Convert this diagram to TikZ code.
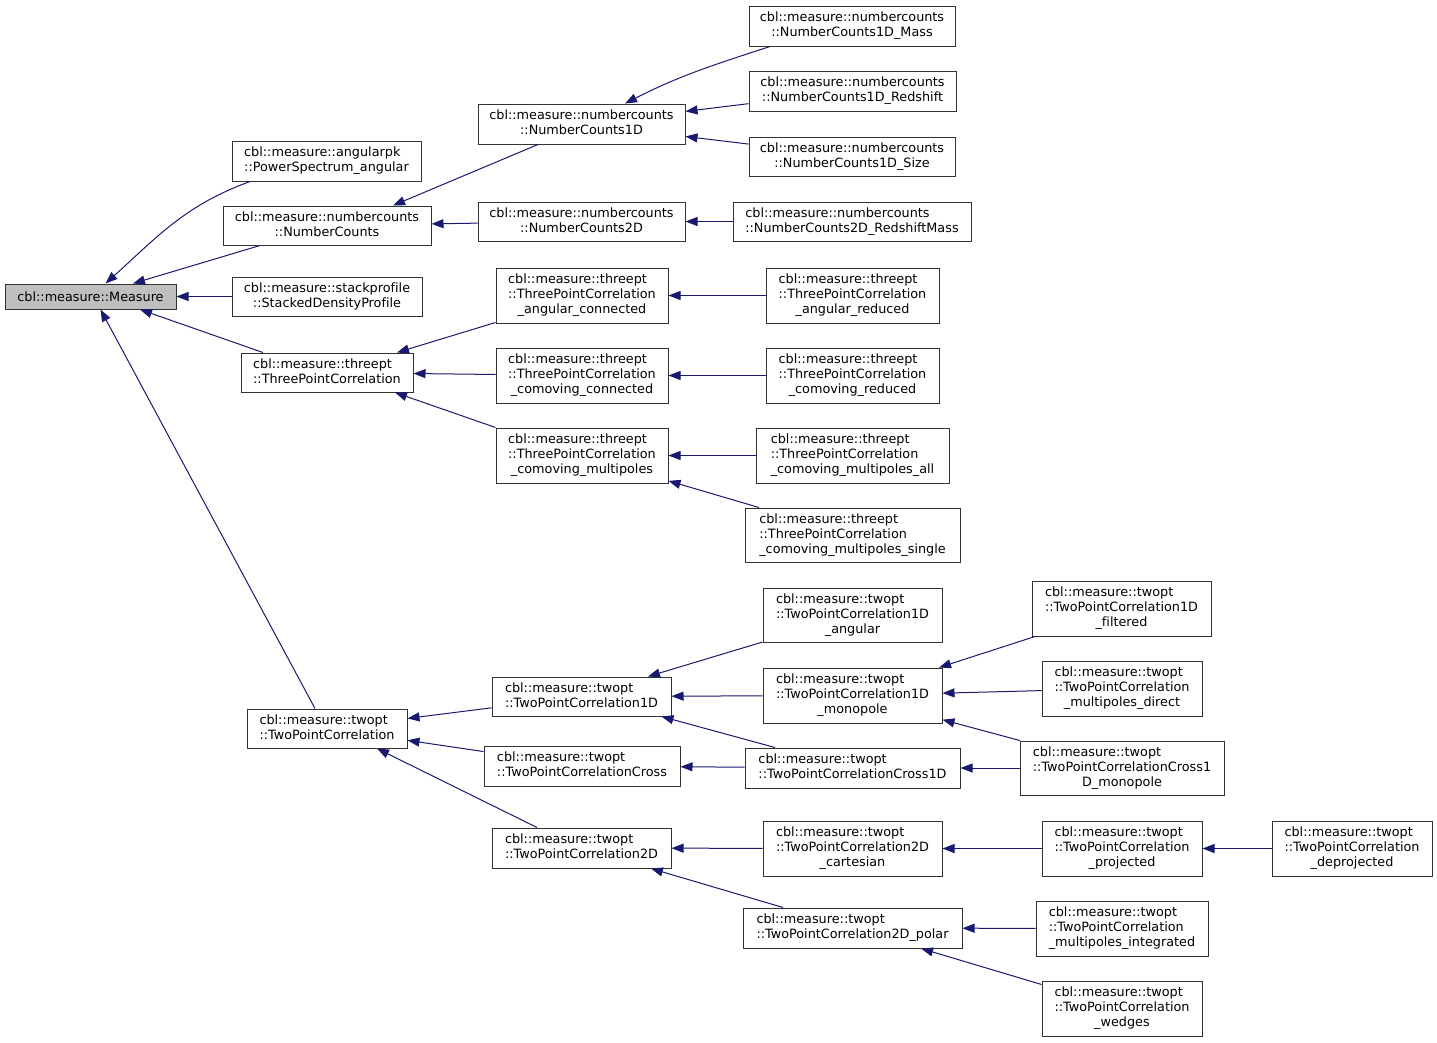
\documentclass[tikz,border=0pt]{standalone}
\usepackage{fontspec}
\setmainfont{DejaVu Sans}[Ligatures=NoCommon]
\usetikzlibrary{arrows.meta}
\definecolor{edgeblue}{HTML}{191970}
\definecolor{boxgray}{HTML}{BFBFBF}
\newcommand\twol[2]{\begin{tabular}{@{}l@{}}#1\\\multicolumn{1}{@{}c@{}}{#2}\end{tabular}}
\newcommand\threel[3]{\begin{tabular}{@{}l@{}}#1\\#2\\\multicolumn{1}{@{}c@{}}{#3}\end{tabular}}
\begin{document}
\begin{tikzpicture}[x=1pt,y=-1pt,
  cls/.style={draw=black!80, line width=1pt, rectangle, inner sep=0pt, fill=white,
    font=\fontsize{12.8pt}{15pt}\selectfont},
  arr/.style={draw=edgeblue, line width=1pt, -{Triangle[length=12pt,width=9pt]}}]
\useasboundingbox (0,0) rectangle (1437,1042);
% column 1
\node[cls, fill=boxgray, minimum width=171pt, minimum height=25pt] (m) at (90.5,296.5) {cbl::measure::Measure};
% column 2
\node[cls, minimum width=189pt, minimum height=40pt] (ps) at (326.5,161) {\twol{cbl::measure::angularpk}{::PowerSpectrum\_angular}};
\node[cls, minimum width=208pt, minimum height=39pt] (nc) at (327,225.5) {\twol{cbl::measure::numbercounts}{::NumberCounts}};
\node[cls, minimum width=190pt, minimum height=39pt] (sdp) at (327,296.5) {\twol{cbl::measure::stackprofile}{::StackedDensityProfile}};
\node[cls, minimum width=172pt, minimum height=39pt] (tp) at (327,372.5) {\twol{cbl::measure::threept}{::ThreePointCorrelation}};
\node[cls, minimum width=160pt, minimum height=39pt] (tw) at (327,728.5) {\twol{cbl::measure::twopt}{::TwoPointCorrelation}};
% column 3
\node[cls, minimum width=207pt, minimum height=40pt] (nc1d) at (581.5,124) {\twol{cbl::measure::numbercounts}{::NumberCounts1D}};
\node[cls, minimum width=207pt, minimum height=39pt] (nc2d) at (581.5,221.5) {\twol{cbl::measure::numbercounts}{::NumberCounts2D}};
\node[cls, minimum width=172pt, minimum height=55pt] (tac) at (582,295.5) {\threel{cbl::measure::threept}{::ThreePointCorrelation}{\_angular\_connected}};
\node[cls, minimum width=172pt, minimum height=55pt] (tcc) at (582,375.5) {\threel{cbl::measure::threept}{::ThreePointCorrelation}{\_comoving\_connected}};
\node[cls, minimum width=172pt, minimum height=55pt] (tcm) at (582,455.5) {\threel{cbl::measure::threept}{::ThreePointCorrelation}{\_comoving\_multipoles}};
\node[cls, minimum width=179pt, minimum height=39pt] (t1d) at (581.5,696.5) {\twol{cbl::measure::twopt}{::TwoPointCorrelation1D}};
\node[cls, minimum width=196pt, minimum height=40pt] (tcross) at (582,766) {\twol{cbl::measure::twopt}{::TwoPointCorrelationCross}};
\node[cls, minimum width=179pt, minimum height=40pt] (t2d) at (581.5,848) {\twol{cbl::measure::twopt}{::TwoPointCorrelation2D}};
% column 4
\node[cls, minimum width=206pt, minimum height=40pt] (ncm) at (852,26) {\twol{cbl::measure::numbercounts}{::NumberCounts1D\_Mass}};
\node[cls, minimum width=207pt, minimum height=40pt] (ncr) at (852.5,91) {\twol{cbl::measure::numbercounts}{::NumberCounts1D\_Redshift}};
\node[cls, minimum width=206pt, minimum height=39pt] (ncs) at (852,156.5) {\twol{cbl::measure::numbercounts}{::NumberCounts1D\_Size}};
\node[cls, minimum width=238pt, minimum height=39pt] (nc2rm) at (852,221.5) {\twol{cbl::measure::numbercounts}{::NumberCounts2D\_RedshiftMass}};
\node[cls, minimum width=173pt, minimum height=55pt] (tar) at (852.5,295.5) {\threel{cbl::measure::threept}{::ThreePointCorrelation}{\_angular\_reduced}};
\node[cls, minimum width=173pt, minimum height=55pt] (tcr) at (852.5,375.5) {\threel{cbl::measure::threept}{::ThreePointCorrelation}{\_comoving\_reduced}};
\node[cls, minimum width=193pt, minimum height=55pt] (tcma) at (852.5,455.5) {\threel{cbl::measure::threept}{::ThreePointCorrelation}{\_comoving\_multipoles\_all}};
\node[cls, minimum width=215pt, minimum height=54pt] (tcms) at (852.5,535) {\threel{cbl::measure::threept}{::ThreePointCorrelation}{\_comoving\_multipoles\_single}};
\node[cls, minimum width=179pt, minimum height=54pt] (t1da) at (852.5,615) {\threel{cbl::measure::twopt}{::TwoPointCorrelation1D}{\_angular}};
\node[cls, minimum width=179pt, minimum height=55pt] (t1dm) at (852.5,695.5) {\threel{cbl::measure::twopt}{::TwoPointCorrelation1D}{\_monopole}};
\node[cls, minimum width=215pt, minimum height=40pt] (tc1d) at (852.5,768) {\twol{cbl::measure::twopt}{::TwoPointCorrelationCross1D}};
\node[cls, minimum width=179pt, minimum height=55pt] (t2dc) at (852.5,848.5) {\threel{cbl::measure::twopt}{::TwoPointCorrelation2D}{\_cartesian}};
\node[cls, minimum width=219pt, minimum height=40pt] (t2dp) at (852.5,928) {\twol{cbl::measure::twopt}{::TwoPointCorrelation2D\_polar}};
% column 5
\node[cls, minimum width=179pt, minimum height=55pt] (t1df) at (1121.5,608.5) {\threel{cbl::measure::twopt}{::TwoPointCorrelation1D}{\_filtered}};
\node[cls, minimum width=160pt, minimum height=55pt] (tmd) at (1122,688.5) {\threel{cbl::measure::twopt}{::TwoPointCorrelation}{\_multipoles\_direct}};
\node[cls, minimum width=204pt, minimum height=54pt] (tc1dm) at (1122,768) {\threel{cbl::measure::twopt}{::TwoPointCorrelationCross1}{D\_monopole}};
\node[cls, minimum width=160pt, minimum height=55pt] (tproj) at (1122,848.5) {\threel{cbl::measure::twopt}{::TwoPointCorrelation}{\_projected}};
\node[cls, minimum width=172pt, minimum height=55pt] (tmi) at (1122,928.5) {\threel{cbl::measure::twopt}{::TwoPointCorrelation}{\_multipoles\_integrated}};
\node[cls, minimum width=160pt, minimum height=55pt] (twedge) at (1122,1008.5) {\threel{cbl::measure::twopt}{::TwoPointCorrelation}{\_wedges}};
% column 6
\node[cls, minimum width=160pt, minimum height=55pt] (tdeproj) at (1352,848.5) {\threel{cbl::measure::twopt}{::TwoPointCorrelation}{\_deprojected}};
% edges to Measure
\draw[arr] ([xshift=-76.5pt]ps.south) to[out=200,in=42] ([xshift=15pt]m.north);
\draw[arr] ([xshift=-67pt]nc.south) -- ([xshift=42.5pt]m.north);
\draw[arr] (sdp) -- (m);
\draw[arr] ([xshift=-64pt]tp.north) -- ([xshift=49.5pt]m.south);
\draw[arr] ([xshift=-12pt]tw.north) -- ([xshift=10pt]m.south);
% numbercounts
\draw[arr] ([xshift=-43.5pt]nc1d.south) -- ([xshift=66pt]nc.north);
\draw[arr] (nc2d) -- (nc);
\draw[arr] ([xshift=-82pt]ncm.south) to[out=198,in=27] ([xshift=43.5pt]nc1d.north);
\draw[arr] (ncr) -- (nc1d);
\draw[arr] (ncs) -- (nc1d);
\draw[arr] (nc2rm) -- (nc2d);
% threept
\draw[arr] ([yshift=1pt]tac.south west) -- ([xshift=70pt]tp.north);
\draw[arr] (tcc) -- (tp);
\draw[arr] (tcm.north west) -- ([xshift=68pt]tp.south);
\draw[arr] (tar) -- (tac);
\draw[arr] (tcr) -- (tcc);
\draw[arr] (tcma) -- (tcm);
\draw[arr] (tcms) -- (tcm);
% twopt
\draw[arr] (t1d) -- (tw);
\draw[arr] (tcross) -- (tw);
\draw[arr] ([xshift=-44.5pt]t2d.north) -- ([xshift=50pt]tw.south);
\draw[arr] (t1da) -- (t1d);
\draw[arr] (t1dm) -- (t1d);
\draw[arr] ([xshift=-77.5pt]tc1d.north) -- ([xshift=80pt]t1d.south);
\draw[arr] (tc1d) -- (tcross);
\draw[arr] (t1df) -- (t1dm);
\draw[arr] (tmd) -- (t1dm);
\draw[arr] (tc1dm) -- (t1dm);
\draw[arr] (tc1dm) -- (tc1d);
\draw[arr] (t2dc) -- (t2d);
\draw[arr] (t2dp) -- (t2d);
\draw[arr] (tproj) -- (t2dc);
\draw[arr] (tdeproj) -- (tproj);
\draw[arr] (tmi) -- (t2dp);
\draw[arr] (twedge) -- (t2dp);
\end{tikzpicture}
\end{document}
